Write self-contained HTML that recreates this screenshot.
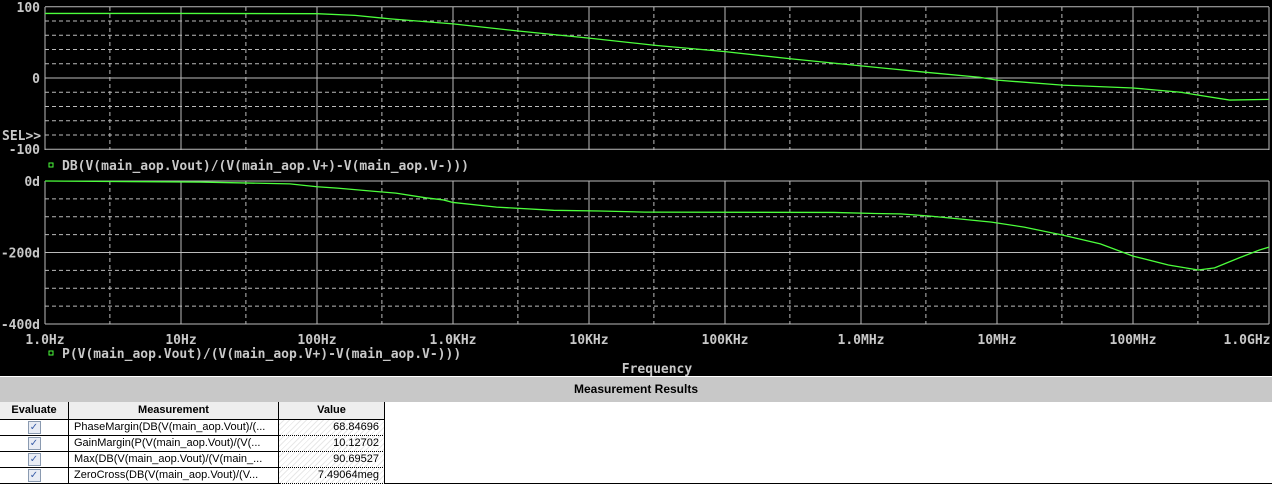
<!DOCTYPE html>
<html><head><meta charset="utf-8"><style>
body{margin:0;width:1272px;height:483px;overflow:hidden;background:#000;font-family:"Liberation Sans",sans-serif}
svg text{font-family:"DejaVu Sans Mono","Liberation Mono",monospace;font-weight:bold;font-size:13px;fill:#c8c8c8}
#tbl{position:absolute;left:0;top:376px;width:1272px;height:107px;background:#fff}
.hd{position:absolute;left:0;top:1px;width:1272px;height:25px;background:#c8c8c8;font-size:12px;font-weight:bold;text-align:center;line-height:25px;color:#000}
.row{position:absolute;left:0;width:1272px;height:16px;font-size:11px;color:#000}
.c{position:absolute;top:0;height:15px;line-height:15px;border-right:1px solid #000;border-bottom:1px solid #000;box-sizing:content-box;white-space:nowrap;overflow:hidden}
.h .c{background:#eee;font-weight:bold;text-align:center;height:17px;line-height:17px}
.cb{display:inline-block;width:11px;height:11px;border:1px solid #8a9ab0;background:#e8ecf4;color:#3a5ea8;font-size:10px;line-height:11px;text-align:center;margin-top:1px}
.v{background:repeating-linear-gradient(135deg,#fff 0 3px,#e8e8e8 3px 4px);text-align:right;padding-right:5px;border-bottom:1px dotted #000!important}
</style></head><body>
<svg id="chart" width="1272" height="376" style="position:absolute;left:0;top:0"></svg>
<div id="tbl">
<div class="hd">Measurement Results</div>
<div class="row h" style="top:26px">
<div class="c" style="left:0;width:68px">Evaluate</div>
<div class="c" style="left:69px;width:209px">Measurement</div>
<div class="c" style="left:279px;width:105px">Value</div>
</div>
<div id="rows"></div>
</div>
<script>
const magLogF=[0,1,2,2.28,2.54,3,3.48,4,4.48,5,5.48,6,6.48,6.87,7,7.48,8,8.35,8.48,8.71,9];
const magDb=[90.7,90.7,90.3,88,83,76,66,56,46,37,27,17,8,1,-3,-10,-14,-20,-24,-31,-30];
const phLogF=[0,1.14,1.8,2.15,2.0,2.58,2.8,2.93,3.0,3.32,3.74,4.08,4.41,5.8,6.1,6.29,6.5,6.72,6.96,7.2,7.48,7.76,8.0,8.26,8.48,8.6,8.78,8.93,9];
const phDeg=[0,-3,-8,-20,-16,-34,-47,-53,-60,-73,-82,-84,-87,-88,-91,-92,-98,-106,-115,-129,-151,-176,-210,-235,-249,-243,-215,-193,-185];
const xTicks=["1.0Hz","10Hz","100Hz","1.0KHz","10KHz","100KHz","1.0MHz","10MHz","100MHz","1.0GHz"];
const magTicks=[100,0,-100];
const phTicks=["0d","-200d","-400d"];
const phTickVals=[0,-200,-400];
const rowsM=["PhaseMargin(DB(V(main_aop.Vout)/(...","GainMargin(P(V(main_aop.Vout)/(V(...","Max(DB(V(main_aop.Vout)/(V(main_...","ZeroCross(DB(V(main_aop.Vout)/(V..."];
const rowsV=["68.84696","10.12702","90.69527","7.49064meg"];
// order phase points
const ph=phLogF.map((l,i)=>[l,phDeg[i]]).sort((a,b)=>a[0]-b[0]);
const NS="http://www.w3.org/2000/svg";
const svg=document.getElementById('chart');
const X0=45,X1=1269;
const x=l=>X0+(X1-X0)*l/9;
const yM=v=>78-v*0.712;
const yP=v=>181-v*0.3575;
function mk(t,a,p){const e=document.createElementNS(NS,t);for(const k in a)e.setAttribute(k,a[k]);(p||svg).appendChild(e);return e;}
function grid(top,bot,yfn,vals,step,name){
 const g=mk('g',{});
 
 
 for(let d=0;d<=9;d++){
  mk('line',{x1:x(d),x2:x(d),y1:top,y2:bot,stroke:'#bbb','stroke-width':1},g);
  if(d<9)mk('line',{x1:x(d+Math.log10(3)),x2:x(d+Math.log10(3)),y1:top,y2:bot,stroke:'#bbb','stroke-dasharray':'4,3'},g);
 }
 for(let v=vals[0];v>=vals[2];v-=step){
  const major=vals.includes(v);
  mk('line',{x1:X0,x2:X1,y1:yfn(v),y2:yfn(v),stroke:'#bbb','stroke-dasharray':major?'':'4,3'},g);
 }
}
grid(7,150,yM,magTicks,20,'magnitude-grid');
grid(181,324,yP,phTickVals,50,'phase-grid');
magTicks.forEach(v=>{const t=mk('text',{x:40,y:yM(v)+5,'text-anchor':'end'});t.textContent=v;

});
phTicks.forEach((s,i)=>{const t=mk('text',{x:40,y:yP(phTickVals[i])+5,'text-anchor':'end'});t.textContent=s;

});
xTicks.forEach((s,i)=>{const t=mk('text',{x:x(i)+(i==9?-22:0),y:344,'text-anchor':'middle'});t.textContent=s;

});
let t=mk('text',{x:2,y:140});t.textContent='SEL>>';


const mp=mk('polyline',{points:magLogF.map((l,i)=>x(l)+','+yM(magDb[i])).join(' '),fill:'none',stroke:'#4cff3c','stroke-width':1.3});


const pp=mk('polyline',{points:ph.map(p=>x(p[0])+','+yP(p[1])).join(' '),fill:'none',stroke:'#4cff3c','stroke-width':1.3});


function legend(y,txt,name){
 const r=mk('rect',{x:49,y:y-7,width:4,height:4,fill:'none',stroke:'#4cff3c','stroke-width':1});
 
 
 const t=mk('text',{x:62,y:y});t.textContent=txt;
 
 
}
legend(170,'DB(V(main_aop.Vout)/(V(main_aop.V+)-V(main_aop.V-)))','magnitude-legend');
legend(358,'P(V(main_aop.Vout)/(V(main_aop.V+)-V(main_aop.V-)))','phase-legend');
t=mk('text',{x:657,y:373,'text-anchor':'middle'});t.textContent='Frequency';


const rows=document.getElementById('rows');
rowsM.forEach((m,i)=>{
 const r=document.createElement('div');r.className='row';r.style.top=(44+i*16)+'px';
 
 
 r.innerHTML='<div class="c" style="left:0;width:68px;text-align:center"><span class="cb">&#10003;</span></div><div class="c" style="left:69px;width:204px;padding-left:5px">'+m+'</div><div class="c v" style="left:279px;width:100px">'+rowsV[i]+'</div>';
 rows.appendChild(r);
});
</script>
</body></html>
